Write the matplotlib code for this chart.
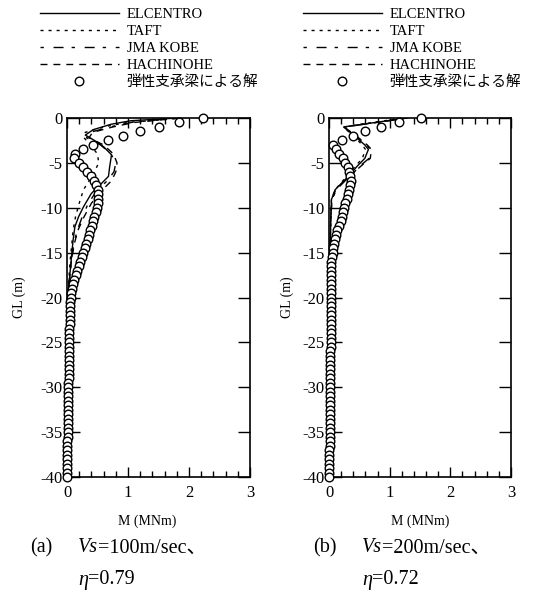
import numpy as np
import matplotlib
matplotlib.use("Agg")
import matplotlib.pyplot as plt
from matplotlib.ticker import MultipleLocator

plt.rcParams['font.family'] = ['Liberation Serif', 'Noto Sans CJK JP', 'DejaVu Sans']
plt.rcParams['axes.unicode_minus'] = False

# ---------------- data ----------------
series_names = ["ELCENTRO", "TAFT", "JMA KOBE", "HACHINOHE"]
circle_label = "弾性支承梁による解"

# circles (elastic beam solution), GL grid every 0.5 m
gl_circ = [0, -0.5, -1, -1.5, -2, -2.5, -3, -3.5, -4, -4.5, -5, -5.5, -6, -6.5, -7, -7.5,
           -8, -8.5, -9, -9.5, -10, -10.5, -11, -11.5, -12, -12.5, -13, -13.5, -14, -14.5,
           -15, -15.5, -16, -16.5, -17, -17.5, -18, -18.5, -19, -19.5, -20, -20.5, -21, -21.5,
           -22, -22.5, -23, -23.5, -24, -24.5, -25, -25.5, -26, -26.5, -27, -27.5, -28, -28.5,
           -29, -29.5, -30, -30.5, -31, -31.5, -32, -32.5, -33, -33.5, -34, -34.5, -35, -35.5,
           -36, -36.5, -37, -37.5, -38, -38.5, -39, -39.5, -40]
circ_a = [2.23, 1.83, 1.50, 1.20, 0.92, 0.68, 0.43, 0.27, 0.13, 0.11, 0.19, 0.26, 0.33, 0.39,
          0.44, 0.48, 0.50, 0.51, 0.51, 0.50, 0.49, 0.47, 0.45, 0.43, 0.41, 0.38, 0.36, 0.34,
          0.31, 0.29, 0.26, 0.24, 0.21, 0.19, 0.17, 0.14, 0.12, 0.10, 0.09, 0.07, 0.06, 0.055,
          0.05, 0.05, 0.05, 0.045, 0.045, 0.04, 0.04, 0.04, 0.035, 0.035, 0.03, 0.03, 0.03,
          0.03, 0.025, 0.025, 0.025, 0.02, 0.02, 0.02, 0.02, 0.015, 0.015, 0.015, 0.015, 0.01,
          0.01, 0.01, 0.01, 0.01, 0.005, 0.005, 0.005, 0.005, 0.005, 0.0, 0.0, 0.0, 0.0]
circ_b = [1.51, 1.15, 0.86, 0.60, 0.40, 0.21, 0.06, 0.11, 0.17, 0.23, 0.27, 0.31, 0.33, 0.35,
          0.36, 0.35, 0.33, 0.31, 0.29, 0.27, 0.25, 0.23, 0.21, 0.19, 0.16, 0.14, 0.12, 0.10,
          0.08, 0.07, 0.06, 0.05, 0.04, 0.035, 0.03, 0.03, 0.03, 0.025, 0.025, 0.025, 0.025,
          0.025, 0.025, 0.025, 0.025, 0.025, 0.025, 0.025, 0.025, 0.025, 0.025, 0.025, 0.02,
          0.02, 0.02, 0.02, 0.02, 0.02, 0.02, 0.02, 0.02, 0.02, 0.015, 0.015, 0.015, 0.015,
          0.015, 0.015, 0.01, 0.01, 0.01, 0.01, 0.01, 0.01, 0.005, 0.005, 0.005, 0.005, 0.0,
          0.0, 0.0]

# (a) Vs=100 m/sec
gl_el_a = [0, -0.3, -0.7, -1.3, -1.9, -2.5, -3.2, -4.1, -5.4, -6.5, -7.4, -8.4, -9.9, -11.0,
           -12.1, -13.6, -15.0, -17.2, -19.5, -25, -30, -35, -40]
el_a = [1.82, 1.05, 0.72, 0.43, 0.30, 0.45, 0.60, 0.73, 0.70, 0.68, 0.55, 0.40, 0.27, 0.19,
        0.13, 0.10, 0.08, 0.05, 0.02, 0.01, 0.0, 0.0, 0.0]
gl_oth_a = [0, -0.5, -1.0, -1.6, -2.2, -3.0, -4.0, -5.0, -6.0, -7.0, -8.0, -9.5, -11, -12.5,
            -14, -16, -18, -20, -25, -30, -35, -40]
taft_a = [1.90, 0.98, 0.60, 0.30, 0.28, 0.38, 0.50, 0.52, 0.45, 0.36, 0.27, 0.20, 0.14, 0.10,
          0.08, 0.05, 0.03, 0.02, 0.01, 0.0, 0.0, 0.0]
kobe_a = [1.80, 1.05, 0.70, 0.38, 0.32, 0.55, 0.72, 0.80, 0.77, 0.66, 0.50, 0.35, 0.25, 0.17,
          0.11, 0.07, 0.04, 0.02, 0.01, 0.0, 0.0, 0.0]
hachi_a = [1.85, 1.10, 0.75, 0.42, 0.36, 0.60, 0.76, 0.82, 0.80, 0.73, 0.58, 0.40, 0.28, 0.18,
           0.12, 0.07, 0.04, 0.02, 0.01, 0.0, 0.0, 0.0]

# (b) Vs=200 m/sec
gl_b = [0, -0.5, -1.0, -2.0, -3.0, -3.5, -4.5, -5.4, -6.3, -6.9, -8.0, -9.1, -11, -14, -18,
        -25, -30, -35, -40]
el_b = [1.28, 0.76, 0.24, 0.42, 0.59, 0.65, 0.59, 0.46, 0.35, 0.26, 0.10, 0.04, 0.03, 0.02,
        0.01, 0.0, 0.0, 0.0, 0.0]
taft_b = [1.22, 0.72, 0.24, 0.40, 0.55, 0.60, 0.55, 0.43, 0.32, 0.24, 0.10, 0.04, 0.03, 0.02,
          0.01, 0.0, 0.0, 0.0, 0.0]
kobe_b = [1.30, 0.78, 0.26, 0.44, 0.62, 0.68, 0.66, 0.50, 0.38, 0.28, 0.12, 0.05, 0.03, 0.02,
          0.01, 0.0, 0.0, 0.0, 0.0]
hachi_b = [1.28, 0.77, 0.25, 0.45, 0.63, 0.70, 0.68, 0.52, 0.37, 0.27, 0.11, 0.05, 0.03, 0.02,
           0.01, 0.0, 0.0, 0.0, 0.0]

x_ticks = [0, 1, 2, 3]
y_ticks = [0, -5, -10, -15, -20, -25, -30, -35, -40]
x_label = "M (MNm)"
y_label = "GL (m)"

# ---------------- figure ----------------
W, H = 553, 603
fig = plt.figure(figsize=(W / 100, H / 100), dpi=100)

styles = [
    dict(ls='-', lw=1.0),
    dict(ls=(0, (2.2, 3.6)), lw=1.0),
    dict(ls=(0, (2.4, 7.0, 7.2, 5.8)), lw=1.0),
    dict(ls=(0, (5.0, 4.3)), lw=1.0),
]


def make_panel(rect, lines_data, circ, xlab_x, ylab_x):
    ax = fig.add_axes(rect)
    handles = []
    for (gl, m), st, name in zip(lines_data, styles, series_names):
        h, = ax.plot(m, gl, color='black', label=name, **st)
        handles.append(h)
    hc, = ax.plot(circ, gl_circ, linestyle='none', marker='o', markersize=6.2,
                  markerfacecolor='white', markeredgecolor='black', markeredgewidth=1.0,
                  clip_on=False, label=circle_label, zorder=3)
    handles.append(hc)
    ax.set_xlim(0, 3)
    ax.set_ylim(-40, 0)
    ax.set_xticks(x_ticks)
    ax.set_xticklabels([str(v) for v in x_ticks])
    ax.xaxis.set_minor_locator(MultipleLocator(0.2))
    ax.set_yticks(y_ticks)
    ax.set_yticklabels([str(v) for v in y_ticks])
    ax.tick_params(axis='x', which='major', direction='in', length=7, width=1.0,
                   top=True, bottom=True, labelsize=12, pad=6)
    ax.tick_params(axis='x', which='minor', direction='in', length=4.5, width=1.0,
                   top=True, bottom=True)
    ax.tick_params(axis='y', which='major', direction='in', length=9, width=1.0,
                   left=True, right=True, labelsize=12, pad=3)
    for s in ax.spines.values():
        s.set_linewidth(1.2)
    ax.set_xlabel(x_label, fontsize=10)
    ax.xaxis.set_label_coords(xlab_x, -0.105)
    ax.set_ylabel(y_label, fontsize=10)
    ax.yaxis.set_label_coords(ylab_x, 0.5)
    return ax, handles


axA, hA = make_panel([67 / W, 126 / H, 183 / W, 359 / H],
                     [(gl_el_a, el_a), (gl_oth_a, taft_a), (gl_oth_a, kobe_a), (gl_oth_a, hachi_a)],
                     circ_a, 0.44, -0.224)
axB, hB = make_panel([329 / W, 126 / H, 182 / W, 359 / H],
                     [(gl_b, el_b), (gl_b, taft_b), (gl_b, kobe_b), (gl_b, hachi_b)],
                     circ_b, 0.5, -0.19)

labels = series_names + [circle_label]
for handles, x0 in [(hA, 40), (hB, 303)]:
    fig.legend(handles, labels, loc='upper left', bbox_to_anchor=(x0 / W, 1 - 8 / H),
               bbox_transform=fig.transFigure, frameon=False, fontsize=10.5,
               handlelength=5.4, handletextpad=0.55, labelspacing=0.25,
               borderpad=0, borderaxespad=0)

# captions
cap_fs = 14.5
for lab, x0, xv, vs, eta in [("(a)", 30, 78, "=100m/sec、", "=0.79"),
                             ("(b)", 313, 362, "=200m/sec、", "=0.72")]:
    fig.text(x0 / W, 1 - 548 / H, lab, fontsize=cap_fs, va='center', ha='left')
    t1 = fig.text(xv / W, 1 - 548 / H, "Vs", fontsize=cap_fs, va='center', ha='left',
                  style='italic')
    fig.add_artist(matplotlib.text.Annotation(vs, xy=(1, 0.5), xycoords=t1, va='center',
                                              ha='left', fontsize=cap_fs,
                                              annotation_clip=False))
    t2 = fig.text(xv / W, 1 - 580 / H, "η", fontsize=cap_fs, va='center', ha='left',
                  style='italic')
    fig.add_artist(matplotlib.text.Annotation(eta, xy=(1, 0.5), xycoords=t2, va='center',
                                              ha='left', fontsize=cap_fs,
                                              annotation_clip=False))

fig.savefig("out.png", dpi=100)
